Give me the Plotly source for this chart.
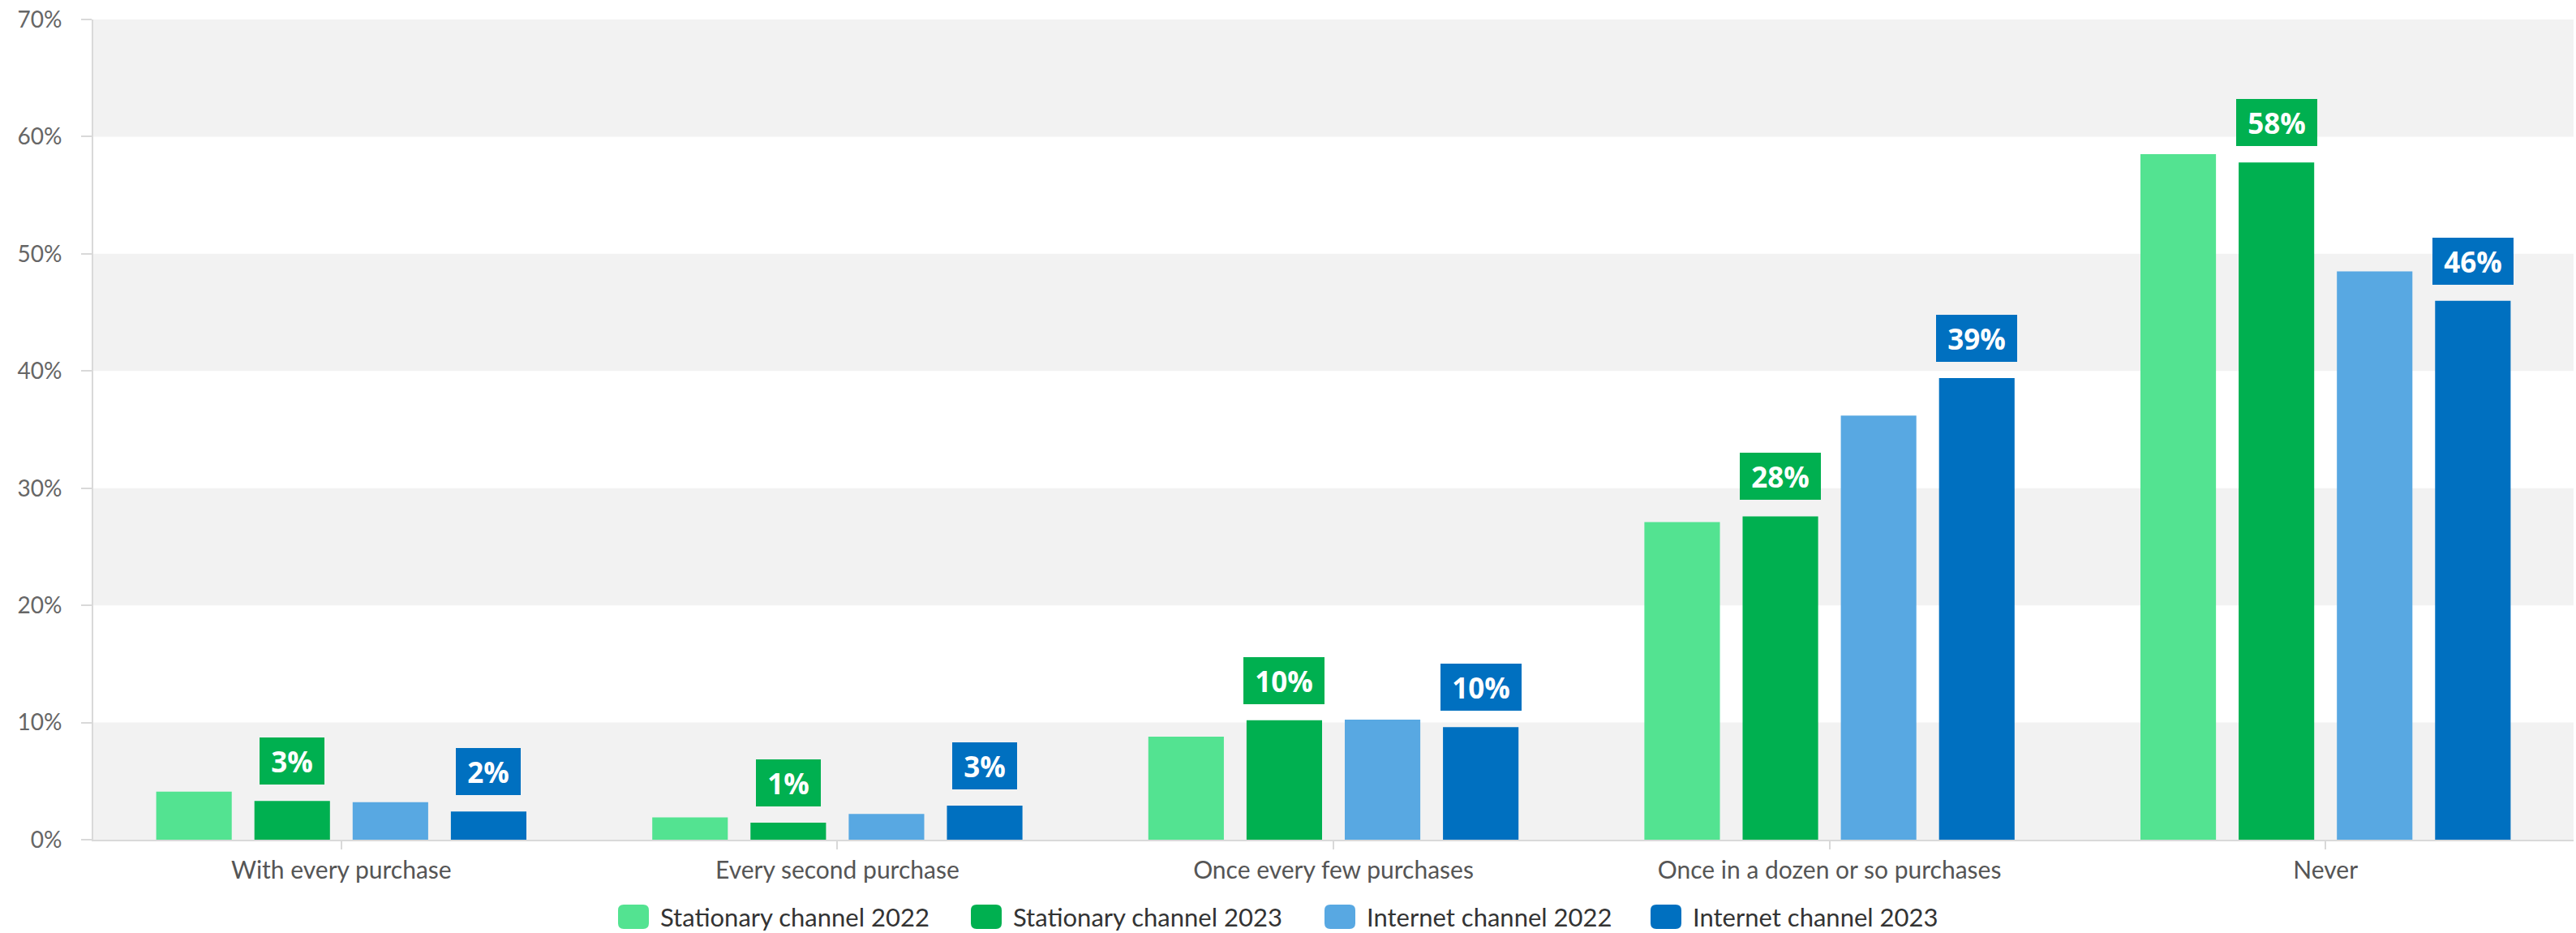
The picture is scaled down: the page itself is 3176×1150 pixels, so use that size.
import plotly.graph_objects as go

# Survey answers (share of respondents, %)
categories = [
    "With every purchase",
    "Every second purchase",
    "Once every few purchases",
    "Once in a dozen or so purchases",
    "Never",
]
stationary_2022 = [4.1, 1.9, 8.8, 27.1, 58.5]
stationary_2023 = [3.3, 1.45, 10.2, 27.6, 57.8]
internet_2022 = [3.2, 2.2, 10.25, 36.2, 48.5]
internet_2023 = [2.4, 2.9, 9.6, 39.4, 46.0]

series_names = [
    "Stationary channel 2022",
    "Stationary channel 2023",
    "Internet channel 2022",
    "Internet channel 2023",
]
y_ticks = [0, 10, 20, 30, 40, 50, 60, 70]
y_tick_labels = ["0%", "10%", "20%", "30%", "40%", "50%", "60%", "70%"]

colors = ["#53E391", "#00B050", "#58A8E2", "#0070C0"]
labelled = [False, True, False, True]

W, H = 3176, 1150
M_L, M_R, M_T, M_B = 115, 3, 24, 115
BARGAP, BARGROUPGAP = 0.208, 0.231

plot_w = W - M_L - M_R
plot_h = H - M_T - M_B


def px_x(x):
    return (x - M_L) / plot_w


def px_y(y):
    return (H - M_B - y) / plot_h


all_series = [stationary_2022, stationary_2023, internet_2022, internet_2023]
idx = list(range(len(categories)))

fig = go.Figure()
for name, vals, col in zip(series_names, all_series, colors):
    fig.add_trace(
        go.Bar(
            x=idx,
            y=vals,
            name=name,
            marker=dict(color=col, line=dict(width=0)),
            showlegend=False,
            hovertemplate="%{y:.1f}%<extra>" + name + "</extra>",
        )
    )

# Alternating horizontal bands
shapes = []
for lo, hi in zip(y_ticks[:-1], y_ticks[1:]):
    if (lo // 10) % 2 == 0:
        shapes.append(
            dict(
                type="rect", xref="paper", yref="y", x0=0, x1=1, y0=lo, y1=hi,
                fillcolor="#F2F2F2", line=dict(width=0), layer="below",
            )
        )

# Value boxes above the 2023 bars
annotations = []
slot = (1 - BARGAP) / len(all_series)
for si, (vals, col, lab) in enumerate(zip(all_series, colors, labelled)):
    if not lab:
        continue
    offset = (si - (len(all_series) - 1) / 2) * slot
    for ci, v in enumerate(vals):
        txt = f"{v:.0f}%"
        annotations.append(
            dict(
                x=ci + offset, y=v, xref="x", yref="y",
                text=txt, showarrow=False,
                yanchor="bottom", xanchor="center", yshift=20,
                bgcolor=col, borderpad=0, borderwidth=0,
                width=20 * len(txt) + 40, height=58, valign="middle",
                font=dict(family="Open Sans", size=35, color="white", weight="bold"),
            )
        )


# Legend drawn as rounded swatches with labels
def rounded_rect(x0, y0, x1, y1, r):
    rx = r / plot_w
    ry = r / plot_h
    X0, X1 = px_x(x0), px_x(x1)
    Yt, Yb = px_y(y0), px_y(y1)
    return (
        f"M{X0 + rx},{Yt} L{X1 - rx},{Yt} Q{X1},{Yt} {X1},{Yt - ry} "
        f"L{X1},{Yb + ry} Q{X1},{Yb} {X1 - rx},{Yb} "
        f"L{X0 + rx},{Yb} Q{X0},{Yb} {X0},{Yb + ry} "
        f"L{X0},{Yt - ry} Q{X0},{Yt} {X0 + rx},{Yt} Z"
    )


legend_x = [762, 1197, 1633, 2035]
sw_w, sw_top, sw_bot = 38, 1115, 1145
for lx, name, col in zip(legend_x, series_names, colors):
    shapes.append(
        dict(
            type="path", xref="paper", yref="paper",
            path=rounded_rect(lx, sw_top, lx + sw_w, sw_bot, 7),
            fillcolor=col, line=dict(width=0),
        )
    )
    annotations.append(
        dict(
            x=px_x(lx + sw_w + 12), y=px_y((sw_top + sw_bot) / 2),
            xref="paper", yref="paper", text=name, showarrow=False,
            xanchor="left", yanchor="middle",
            font=dict(family="Lato", size=31, color="#333333"),
        )
    )

fig.update_layout(
    width=W,
    height=H,
    margin=dict(l=M_L, r=M_R, t=M_T, b=M_B, pad=0),
    paper_bgcolor="white",
    plot_bgcolor="white",
    barmode="group",
    bargap=BARGAP,
    bargroupgap=BARGROUPGAP,
    shapes=shapes,
    annotations=annotations,
    xaxis=dict(
        range=[-0.5, len(categories) - 0.5],
        tickmode="array",
        tickvals=idx,
        ticktext=categories,
        showgrid=False,
        zeroline=False,
        showline=True,
        linecolor="#D9D9D9",
        linewidth=2,
        ticks="outside",
        ticklen=10,
        tickwidth=2,
        tickcolor="#D9D9D9",
        tickfont=dict(family="Lato", size=30, color="#555555"),
    ),
    yaxis=dict(
        range=[0, 70],
        tickmode="array",
        tickvals=y_ticks,
        ticktext=y_tick_labels,
        showgrid=False,
        zeroline=False,
        showline=True,
        linecolor="#D9D9D9",
        linewidth=2,
        ticks="outside",
        ticklen=13,
        tickwidth=2,
        tickcolor="#D9D9D9",
        ticklabelstandoff=18,
        tickfont=dict(family="Lato", size=28, color="#666666"),
    ),
    font=dict(family="Lato"),
)

fig.write_html("out.html")
